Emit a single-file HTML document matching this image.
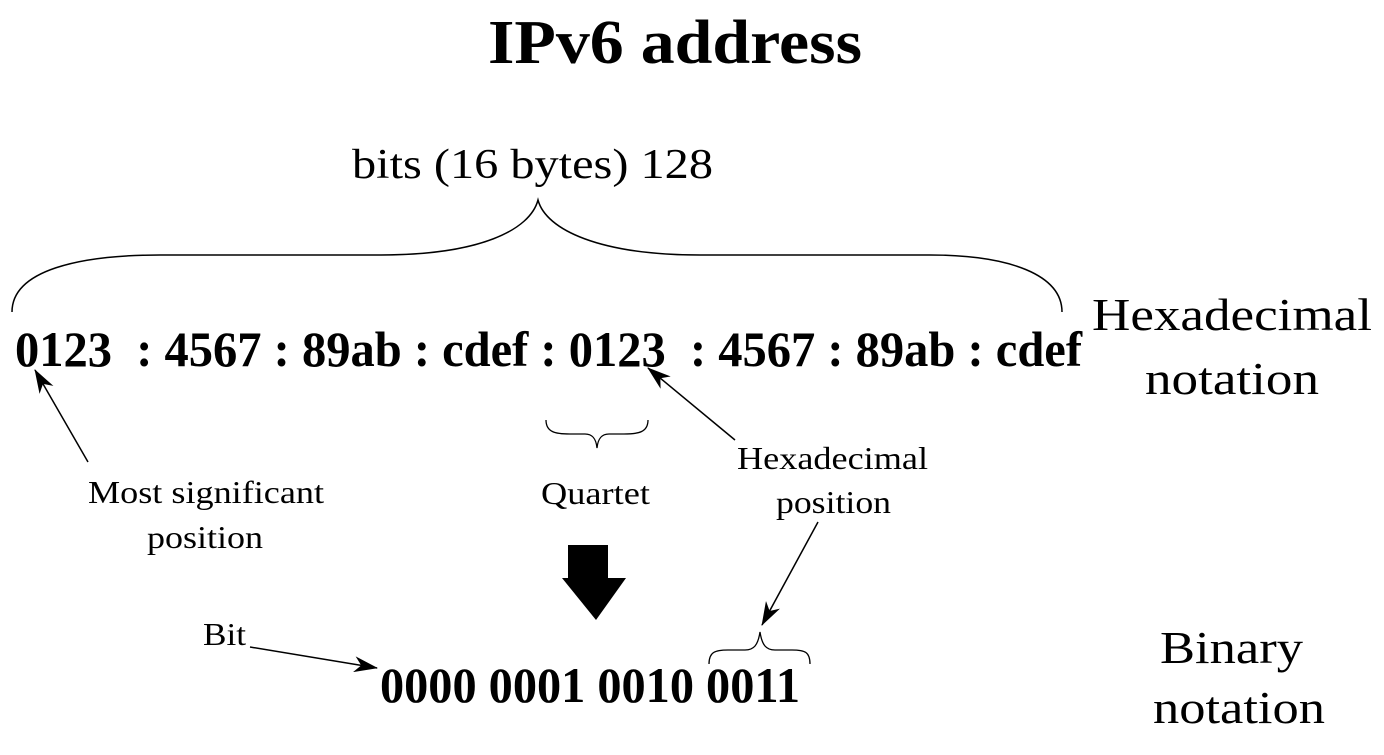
<!DOCTYPE html>
<html><head><style>html,body{margin:0;padding:0;background:#fff}</style></head>
<body>
<svg width="1384" height="750" viewBox="0 0 1384 750" xmlns="http://www.w3.org/2000/svg" font-family="'Liberation Serif', serif">
<defs>
<marker id="ah" markerWidth="24" markerHeight="16" refX="23" refY="8" orient="auto" markerUnits="userSpaceOnUse">
<path d="M0,0 L24,8 L0,16 L7,8 Z" fill="#000"/>
</marker>
</defs>
<text x="675" y="63" font-size="62" font-weight="bold" text-anchor="middle" textLength="374" lengthAdjust="spacingAndGlyphs">IPv6 address</text>
<text x="352" y="178" font-size="42" textLength="361" lengthAdjust="spacingAndGlyphs">bits (16 bytes) 128</text>
<path d="M12,312 C12,270 80,255 160,255 L380,255 C480,255 530,230 538,200 C546,230 600,255 700,255 L930,255 C1010,255 1062,275 1062,312" fill="none" stroke="#000" stroke-width="1.5"/>
<text x="15" y="366" font-size="50" font-weight="bold" textLength="1067" lengthAdjust="spacingAndGlyphs" xml:space="preserve">0123  : 4567 : 89ab : cdef : 0123  : 4567 : 89ab : cdef</text>
<text x="1092" y="330" font-size="46" textLength="280" lengthAdjust="spacingAndGlyphs">Hexadecimal</text>
<text x="1232" y="394" font-size="46" text-anchor="middle" textLength="174" lengthAdjust="spacingAndGlyphs">notation</text>
<line x1="88" y1="462" x2="35" y2="370" stroke="#000" stroke-width="1.5" marker-end="url(#ah)"/>
<text x="88" y="503" font-size="32" textLength="236" lengthAdjust="spacingAndGlyphs">Most significant</text>
<text x="147" y="548" font-size="32" textLength="116" lengthAdjust="spacingAndGlyphs">position</text>
<path d="M546,420 C546,432 555,434 570,434 L585,434 C592,434 596,438 597,448 C598,438 602,434 609,434 L624,434 C639,434 648,432 648,420" fill="none" stroke="#000" stroke-width="1.3"/>
<text x="541" y="504" font-size="32" textLength="109" lengthAdjust="spacingAndGlyphs">Quartet</text>
<text x="737" y="469" font-size="32" textLength="191" lengthAdjust="spacingAndGlyphs">Hexadecimal</text>
<text x="776" y="513" font-size="32" textLength="115" lengthAdjust="spacingAndGlyphs">position</text>
<line x1="735" y1="440" x2="648" y2="368" stroke="#000" stroke-width="1.5" marker-end="url(#ah)"/>
<rect x="568" y="545" width="40" height="35" fill="#000"/>
<polygon points="562,578 626,578 596,620" fill="#000"/>
<text x="203" y="645" font-size="32" textLength="43" lengthAdjust="spacingAndGlyphs">Bit</text>
<line x1="250" y1="647" x2="377" y2="668" stroke="#000" stroke-width="1.5" marker-end="url(#ah)"/>
<text x="380" y="702" font-size="50" font-weight="bold" textLength="420" lengthAdjust="spacingAndGlyphs">0000 0001 0010 0011</text>
<path d="M709,664 C709,652 715,650 728,650 L745,650 C754,650 758,645 760,632 C762,645 766,650 775,650 L792,650 C805,650 810,652 810,664" fill="none" stroke="#000" stroke-width="1.3"/>
<line x1="818" y1="522" x2="762" y2="625" stroke="#000" stroke-width="1.5" marker-end="url(#ah)"/>
<text x="1160" y="663" font-size="46" textLength="143" lengthAdjust="spacingAndGlyphs">Binary</text>
<text x="1153" y="723" font-size="46" textLength="172" lengthAdjust="spacingAndGlyphs">notation</text>
</svg>
</body></html>
